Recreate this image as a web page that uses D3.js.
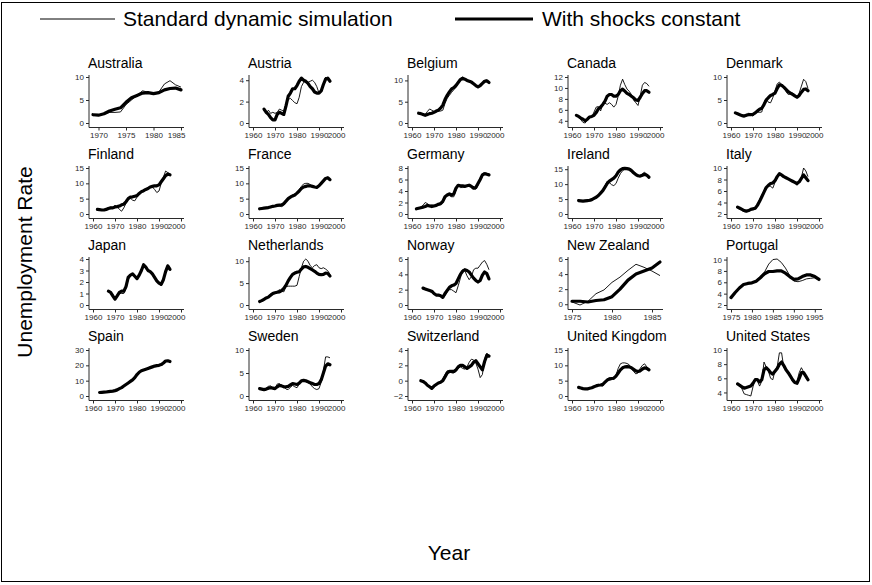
<!DOCTYPE html>
<html><head><meta charset="utf-8">
<script src="https://cdn.jsdelivr.net/npm/d3@7"></script>
<style>
body{margin:0;background:#fff}
svg{display:block}
text{font-family:"Liberation Sans",Arial,Helvetica,sans-serif}
</style>
</head><body>
<svg id="chart" width="872" height="585"></svg>
<script>
// ---------------- data ----------------
const countries = ["Australia","Austria","Belgium","Canada","Denmark",
  "Finland","France","Germany","Ireland","Italy",
  "Japan","Netherlands","Norway","New Zealand","Portugal",
  "Spain","Sweden","Switzerland","United Kingdom","United States"];
const startYears = [1969,1965,1963,1962,1962, 1962,1963,1962,1963,1963,
  1967,1963,1965,1975,1975, 1963,1963,1964,1963,1963];
const yTickSets = [[0,5,10],[0,2,4],[0,5,10],[4,6,8,10,12],[0,5,10],
  [0,5,10,15],[0,5,10,15],[0,2,4,6,8],[0,5,10,15],[2,4,6,8,10],
  [0,1,2,3,4],[0,5,10],[0,2,4,6],[0,2,4,6],[2,4,6,8,10],
  [0,10,20,30],[0,5,10],[-2,0,2,4],[0,5,10,15],[4,6,8,10]];
const decades = [1960,1970,1980,1990,2000];
const xTickSets = [[1970,1975,1980,1985],decades,decades,decades,decades,
  decades,decades,decades,decades,decades,
  decades,decades,decades,[1975,1980,1985],[1975,1980,1985,1990,1995],
  decades,decades,decades,decades,decades];
const legendLabels = ["Standard dynamic simulation","With shocks constant"];
const xTitle = "Year";
const yTitle = "Unemployment Rate";

// thin = standard dynamic simulation, thick = with shocks constant
const australiaThin  = [1.6,1.7,2.0,2.3,2.3,2.4,4.0,5.0,6.0,7.0,6.7,6.3,6.8,8.5,9.2,8.3,7.8];
const australiaThick = [1.8,1.7,2.0,2.6,3.0,3.3,4.5,5.5,6.0,6.5,6.6,6.4,6.6,7.2,7.5,7.6,7.2];
const austriaThin  = [1.2,0.9,1.2,0.9,1.0,0.9,1.0,1.3,1.2,1.1,1.8,2.2,2.3,2.1,1.9,1.8,2.4,3.4,3.8,3.9,3.8,3.9,4.0,3.8,3.4,2.8,2.9,3.6,4.3,4.0,3.9];
const austriaThick = [1.3,1.0,0.8,0.5,0.3,0.3,0.8,1.0,0.9,0.8,1.6,2.5,2.8,3.2,3.2,3.5,3.9,4.2,4.0,3.9,3.7,3.4,3.2,2.9,2.8,2.8,3.0,3.6,4.1,4.2,3.9];
const belgiumThin  = [2.2,2.0,2.0,2.0,2.7,3.3,3.0,2.7,2.6,2.8,2.8,3.0,4.6,5.8,6.5,7.2,7.8,8.4,9.5,10.5,10.8,10.4,10.2,9.9,9.7,9.3,8.8,8.4,8.6,9.3,10.0,10.1,9.6];
const belgiumThick = [2.3,2.2,2.0,1.8,2.0,2.2,2.3,2.5,2.8,3.0,3.5,4.2,5.5,6.5,7.3,8.0,8.3,8.8,9.5,10.2,10.5,10.3,10.0,9.8,9.6,9.2,8.8,8.5,8.8,9.3,9.8,9.9,9.5];
const canadaThin  = [5.0,4.7,4.2,3.7,3.6,4.2,4.6,4.7,5.6,6.5,6.6,5.8,7.0,7.2,7.0,7.3,7.0,6.5,7.0,8.5,10.5,11.6,10.6,9.8,9.4,8.8,7.8,7.3,6.8,8.5,10.5,11.0,10.8,10.3];
const canadaThick = [5.0,4.8,4.5,4.3,4.0,4.3,4.7,4.8,5.0,5.5,6.2,6.5,7.0,7.6,8.5,8.8,8.8,8.5,8.5,8.8,9.5,9.8,9.4,9.0,8.8,8.5,8.2,7.8,7.7,8.3,9.0,9.5,9.5,9.2];
const denmarkThin  = [2.1,1.9,1.6,1.6,1.7,1.6,2.2,1.7,1.5,2.0,2.4,2.3,2.4,4.5,5.3,4.5,4.4,5.5,7.0,8.5,8.9,8.4,7.8,6.8,6.2,6.3,6.5,6.2,5.6,6.5,8.0,9.5,9.0,7.5];
const denmarkThick = [2.2,2.0,1.8,1.6,1.5,1.7,1.8,1.8,1.9,2.2,2.6,3.0,3.2,4.0,5.0,5.5,6.0,6.2,6.5,7.5,8.3,8.2,7.8,7.3,6.8,6.5,6.2,5.9,5.6,6.0,6.7,7.3,7.4,7.0];
const finlandThin  = [1.4,1.2,1.4,1.4,1.8,2.0,2.2,2.2,2.8,2.4,1.5,0.9,2.0,3.5,5.0,5.2,4.5,4.3,5.5,6.3,7.0,7.3,7.8,8.6,8.9,8.8,8.0,7.0,7.5,10.0,12.0,14.0,13.5,13.0];
const finlandThick = [1.5,1.4,1.3,1.3,1.5,1.8,2.0,2.0,2.3,2.4,2.6,3.0,3.2,4.0,5.0,5.5,5.6,5.8,6.0,6.7,7.3,7.6,8.0,8.3,8.8,9.0,9.2,9.2,9.5,10.5,11.5,12.5,13.0,12.8];
const franceThin  = [1.6,1.8,2.0,2.2,2.3,2.5,2.5,2.6,2.7,2.6,2.4,2.8,4.2,5.2,5.8,6.2,6.5,7.0,8.0,9.0,9.8,10.0,10.0,9.6,9.0,8.7,8.6,9.0,10.2,11.0,11.8,12.0,11.4];
const franceThick = [1.7,1.8,1.9,2.0,2.1,2.3,2.5,2.6,2.8,2.9,3.0,3.4,4.2,5.0,5.5,5.9,6.2,6.8,7.5,8.3,8.8,9.0,9.2,9.2,9.0,8.8,8.7,9.2,10.0,10.8,11.6,11.8,11.2];
const germanyThin  = [0.8,1.0,1.2,1.5,2.0,1.8,1.5,1.6,1.5,1.4,1.5,1.6,2.0,2.8,3.2,3.2,3.0,3.0,4.2,4.9,4.6,4.6,4.7,5.0,5.2,4.8,4.4,4.3,5.0,6.0,7.0,7.2,7.1,6.9];
const germanyThick = [0.9,1.0,1.1,1.2,1.3,1.5,1.4,1.3,1.4,1.5,1.7,1.8,2.2,3.0,3.3,3.5,3.3,3.5,4.5,5.0,4.9,4.9,4.8,4.9,5.0,4.8,4.5,4.6,5.3,6.0,6.8,7.0,6.9,6.8];
const irelandThin  = [4.2,4.3,4.5,4.6,4.4,4.3,4.5,5.0,5.4,6.0,6.8,7.8,9.5,11.0,10.5,9.8,9.5,10.2,12.0,13.5,14.5,15.0,15.3,15.4,15.0,14.3,13.5,13.0,12.8,13.5,14.0,13.2,12.5];
const irelandThick = [4.5,4.4,4.3,4.4,4.5,4.6,4.8,5.2,5.6,6.2,7.0,7.8,9.0,10.2,11.0,11.5,12.0,12.8,14.0,14.8,15.2,15.3,15.2,15.0,14.5,13.8,13.2,12.8,12.7,13.0,13.3,13.0,12.3];
const italyThin  = [3.1,3.0,2.6,2.4,2.4,2.7,2.8,2.7,2.8,3.4,4.5,5.2,6.0,6.5,6.9,6.8,6.5,7.5,8.4,9.0,8.8,8.6,8.4,8.2,8.0,7.7,7.4,7.0,7.5,8.4,10.0,9.5,8.5];
const italyThick = [3.2,3.0,2.8,2.6,2.5,2.6,2.8,2.9,3.0,3.5,4.2,5.0,5.8,6.6,7.0,7.3,7.4,7.8,8.5,9.0,8.8,8.5,8.3,8.1,7.9,7.7,7.5,7.3,7.6,8.2,8.8,8.3,7.8];
const japanThin  = [1.2,1.1,0.9,0.6,0.9,1.0,1.0,1.0,1.5,2.2,2.5,2.7,2.6,2.3,2.6,3.0,3.5,3.3,3.0,2.9,2.8,2.5,2.1,1.8,1.7,2.2,3.0,3.5,3.2];
const japanThick = [1.2,1.1,0.8,0.5,0.8,1.1,1.2,1.2,1.6,2.4,2.6,2.7,2.5,2.3,2.6,3.0,3.5,3.3,3.0,2.9,2.7,2.4,2.1,1.9,1.8,2.2,2.9,3.4,3.1];
const netherlandsThin  = [0.8,1.0,1.3,1.7,2.0,2.5,2.6,2.8,3.1,3.5,3.2,3.0,4.2,4.3,4.3,4.3,4.3,4.5,6.5,8.5,10.0,10.5,10.0,9.0,8.5,9.0,9.2,8.5,8.3,8.5,8.2,7.8,7.0];
const netherlandsThick = [0.8,1.0,1.3,1.6,1.8,2.2,2.6,2.8,2.9,3.0,3.3,3.8,4.5,5.5,6.3,7.0,7.3,7.5,7.6,8.2,8.7,8.8,8.6,8.3,8.0,7.7,7.3,7.0,6.9,7.0,7.3,7.2,6.6];
const norwayThin  = [2.2,2.0,2.0,1.8,1.6,1.4,1.3,1.2,1.3,1.1,1.2,1.7,2.0,2.0,1.8,1.6,2.5,3.5,4.6,4.5,3.8,3.3,3.7,4.6,4.8,4.8,5.2,5.6,5.8,5.3,4.6];
const norwayThick = [2.2,2.1,2.0,1.9,1.8,1.5,1.3,1.3,1.2,1.0,1.5,1.9,2.3,2.5,2.6,2.8,3.4,4.0,4.4,4.6,4.5,4.3,3.9,3.5,3.2,3.0,3.2,3.9,4.3,4.1,3.4];
const newZealandThin  = [0.3,-0.1,0.4,1.4,1.9,2.9,3.6,4.5,5.3,4.9,4.4,3.8];
const newZealandThick = [0.4,0.4,0.3,0.5,0.6,1.0,2.0,3.2,4.0,4.4,4.8,5.6];
const portugalThin  = [3.3,4.2,5.0,5.6,5.8,5.9,6.3,7.0,7.8,9.2,10.0,10.1,9.5,8.5,7.2,6.2,6.1,6.3,6.6,6.7,6.8,6.4];
const portugalThick = [3.3,4.2,5.0,5.6,5.8,5.9,6.2,6.8,7.5,7.9,7.9,8.0,8.0,7.6,7.0,6.5,6.6,7.0,7.3,7.3,7.0,6.5];
const spainThin  = [2.2,2.3,2.5,2.7,2.8,3.0,3.3,3.4,4.2,4.9,5.4,6.3,7.6,8.8,9.7,10.8,12.4,14.3,15.6,16.2,16.8,17.3,17.8,18.6,19.2,19.4,19.8,20.3,20.8,21.3,22.6,23.2,22.7];
const spainThick = [2.3,2.4,2.5,2.6,2.8,3.0,3.2,3.5,4.0,4.8,5.5,6.5,7.5,8.5,9.5,10.5,12.0,14.0,15.5,16.5,17.0,17.5,18.0,18.5,19.0,19.5,19.8,20.0,20.5,21.5,22.8,23.0,22.5];
const swedenThin  = [1.7,1.6,1.2,1.7,2.1,2.2,1.8,1.5,2.6,2.7,2.3,2.0,1.5,1.4,1.9,2.3,2.0,1.8,2.6,3.4,3.6,3.1,2.9,2.6,2.0,1.6,1.4,1.6,3.0,5.5,8.5,8.5,8.3];
const swedenThick = [1.6,1.5,1.4,1.5,1.7,1.8,1.7,1.6,2.0,2.3,2.2,2.0,2.0,2.1,2.4,2.7,2.6,2.5,2.8,3.3,3.4,3.3,3.1,2.9,2.7,2.5,2.5,2.7,3.5,5.0,6.5,7.0,6.8];
const switzerlandThin  = [0.0,-0.2,-0.3,-0.6,-0.9,-1.1,-0.8,-0.6,-0.3,-0.1,0.2,0.8,1.3,1.3,1.0,1.0,1.2,1.6,1.8,1.6,1.5,1.8,2.4,2.8,2.7,2.3,1.5,0.4,0.8,2.8,3.6,3.3];
const switzerlandThick = [0.0,-0.1,-0.3,-0.6,-0.8,-1.0,-0.7,-0.5,-0.3,-0.2,0.0,0.5,1.0,1.2,1.2,1.2,1.4,1.8,2.0,2.0,1.8,1.6,1.8,2.0,2.4,2.6,2.2,1.8,1.4,2.5,3.3,3.2];
const ukThin  = [2.7,2.4,2.2,2.3,2.5,2.6,2.5,2.8,3.6,3.8,3.4,3.2,4.8,5.6,6.0,5.8,5.4,6.8,9.0,10.5,10.8,10.8,10.6,10.2,9.0,8.0,7.2,7.5,9.0,10.0,10.5,9.5,8.5];
const ukThick = [2.8,2.6,2.4,2.3,2.3,2.5,2.7,3.0,3.3,3.5,3.6,3.8,4.5,5.2,5.5,5.7,5.8,6.5,7.5,8.5,9.2,9.5,9.6,9.5,9.2,8.7,8.2,8.0,8.2,8.8,9.2,9.0,8.5];
const usThin  = [5.3,5.0,4.5,3.8,3.7,3.6,3.5,4.8,5.9,5.6,4.9,5.6,8.3,7.6,7.0,6.0,5.8,7.1,7.6,9.6,9.6,7.5,7.2,7.0,6.2,5.5,5.3,5.6,6.8,7.5,6.9,6.1,5.6];
const usThick = [5.2,5.0,4.8,4.6,4.7,4.8,4.9,5.3,5.8,5.8,5.5,5.8,7.2,7.5,7.2,6.8,6.6,7.0,7.4,8.0,8.3,7.8,7.2,6.8,6.3,5.8,5.4,5.3,6.0,6.8,6.8,6.3,5.8];

const thinSeries = [australiaThin,austriaThin,belgiumThin,canadaThin,denmarkThin,
  finlandThin,franceThin,germanyThin,irelandThin,italyThin,
  japanThin,netherlandsThin,norwayThin,newZealandThin,portugalThin,
  spainThin,swedenThin,switzerlandThin,ukThin,usThin];
const thickSeries = [australiaThick,austriaThick,belgiumThick,canadaThick,denmarkThick,
  finlandThick,franceThick,germanyThick,irelandThick,italyThick,
  japanThick,netherlandsThick,norwayThick,newZealandThick,portugalThick,
  spainThick,swedenThick,switzerlandThick,ukThick,usThick];

// ---------------- drawing ----------------
const svg = d3.select("#chart");
const ink = "#000";
const tickInk = "#2a2a2a";

svg.append("rect").attr("x",1.5).attr("y",2.5).attr("width",868).attr("height",579)
  .attr("fill","none").attr("stroke",ink).attr("stroke-width",1);

// legend
const legend = [{x1:40,x2:115,tx:123,w:1,label:legendLabels[0]},
                {x1:455,x2:533,tx:542,w:3,label:legendLabels[1]}];
legend.forEach(l=>{
  svg.append("line").attr("x1",l.x1).attr("x2",l.x2).attr("y1",19).attr("y2",19)
    .attr("stroke",ink).attr("stroke-width",l.w);
  svg.append("text").attr("x",l.tx).attr("y",26).attr("font-size",21).attr("fill",ink).text(l.label);
});

// axis titles
svg.append("text").attr("transform","translate(32,262) rotate(-90)")
  .attr("text-anchor","middle").attr("font-size",21).attr("fill",ink).text(yTitle);
svg.append("text").attr("x",449).attr("y",560)
  .attr("text-anchor","middle").attr("font-size",21).attr("fill",ink).text(xTitle);

const colX = [89,249,408,568,727];
const rowPitch = 91;
const plotW = 95;

countries.forEach((name,i)=>{
  const col = i%5, row = Math.floor(i/5);
  const x0 = colX[col];
  const yTop = 77 + row*rowPitch, yBot = 123 + row*rowPitch;
  const axisY = yBot + 4.5;
  const thin = thinSeries[i], thick = thickSeries[i];
  const years = thin.map((_,k)=>startYears[i]+k);
  const xt = xTickSets[i], yt = yTickSets[i];
  const all = thin.concat(thick);
  const x = d3.scaleLinear()
    .domain([Math.min(years[0],xt[0]), Math.max(years[years.length-1], xt[xt.length-1])])
    .range([x0+4, x0+92]);
  const y = d3.scaleLinear()
    .domain([Math.min(d3.min(all),yt[0]), Math.max(d3.max(all),yt[yt.length-1])])
    .range([yBot, yTop]);
  const g = svg.append("g");

  // title
  g.append("text").attr("x",x0-1).attr("y",yTop-9.5).attr("font-size",14).attr("fill",ink).text(name);

  // axis lines
  g.append("line").attr("x1",x0).attr("x2",x0).attr("y1",yTop-2).attr("y2",axisY)
    .attr("stroke",tickInk).attr("stroke-width",1);
  g.append("line").attr("x1",x0).attr("x2",x0+plotW).attr("y1",axisY).attr("y2",axisY)
    .attr("stroke",tickInk).attr("stroke-width",1);

  // y ticks
  const ya = g.append("g").attr("transform",`translate(${x0},0)`)
    .call(d3.axisLeft(y).tickValues(yt).tickSize(3).tickPadding(2).tickFormat(d3.format("d")));
  ya.select(".domain").remove();
  ya.selectAll("line").attr("stroke",tickInk);
  ya.selectAll("text").attr("font-size",8).attr("fill",tickInk)
    .attr("font-family","'Liberation Sans',Arial,sans-serif");

  // x ticks
  const xa = g.append("g").attr("transform",`translate(0,${axisY})`)
    .call(d3.axisBottom(x).tickValues(xt).tickSize(3).tickPadding(2).tickFormat(d3.format("d")));
  xa.select(".domain").remove();
  xa.selectAll("line").attr("stroke",tickInk);
  xa.selectAll("text").attr("font-size",8).attr("fill",tickInk)
    .attr("font-family","'Liberation Sans',Arial,sans-serif");
  // keep the last label inside the axis end (it abuts its neighbour, as in the original)
  const labels = xa.selectAll("text").nodes();
  const last = labels[labels.length-1];
  const lastX = x(xt[xt.length-1]);
  const half = last.getComputedTextLength()/2;
  const over = lastX + half - (x0+plotW+1);
  if (over > 0) d3.select(last).attr("dx", -over);

  // series
  const line = d3.line().x((d,k)=>x(years[k])).y(d=>y(d));
  g.append("path").datum(thick).attr("d",line).attr("fill","none")
    .attr("stroke",ink).attr("stroke-width",3.2).attr("stroke-linejoin","round").attr("stroke-linecap","round");
  g.append("path").datum(thin).attr("d",line).attr("fill","none")
    .attr("stroke",ink).attr("stroke-width",0.9).attr("stroke-linejoin","round");
});
</script>
</body></html>
